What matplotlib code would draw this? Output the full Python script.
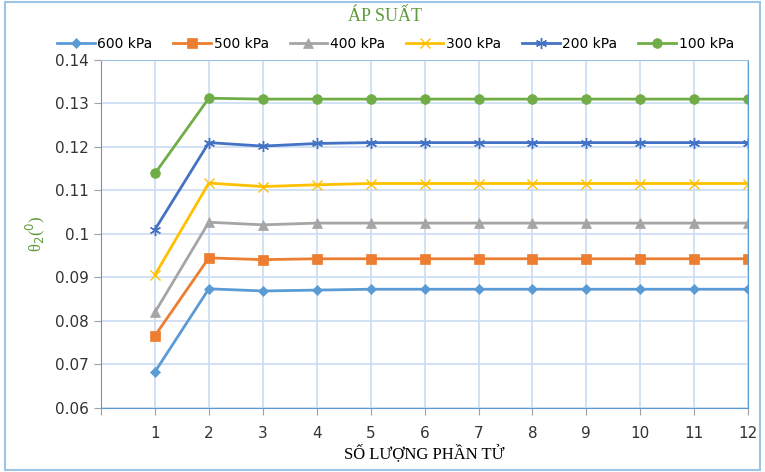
import numpy as np
import matplotlib.pyplot as plt
from matplotlib.patches import Rectangle

x = np.arange(1, 13)
labels = ['600 kPa', '500 kPa', '400 kPa', '300 kPa', '200 kPa', '100 kPa']
p600 = [0.0683, 0.0874, 0.0869, 0.0871] + [0.0873] * 8
p500 = [0.0766, 0.0945, 0.0941, 0.0943] + [0.0943] * 8
p400 = [0.0820, 0.1027, 0.1021, 0.1025] + [0.1025] * 8
p300 = [0.0906, 0.1117, 0.1109, 0.1113] + [0.1116] * 8
p200 = [0.1010, 0.1210, 0.1202, 0.1208] + [0.1210] * 8
p100 = [0.1139, 0.1312, 0.1310, 0.1310] + [0.1310] * 8

series = [p600, p500, p400, p300, p200, p100]
colors = ['#5B9BD5', '#ED7D31', '#A5A5A5', '#FFC000', '#4472C4', '#70AD47']
markers = ['D', 's', '^', 'x', (6, 2, 0), 'o']
msizes = [5, 7, 7, 7, 8, 7]

fig = plt.figure(figsize=(7.65, 4.72), dpi=100)
ax = fig.add_axes([0.132, 0.1356, 0.846, 0.7374])

for ys, lab, c, m, ms in zip(series, labels, colors, markers, msizes):
    ax.plot(x, ys, color=c, marker=m, markersize=ms, linewidth=2,
            label=lab, markeredgewidth=1 if m in ('x',) or isinstance(m, tuple) else 0.5,
            markeredgecolor=c)

ax.set_xlim(0, 12)
ax.set_ylim(0.06, 0.14)
ax.set_xticks(range(0, 13))
ax.set_xticklabels([''] + [str(i) for i in range(1, 13)])
ax.set_yticks(np.arange(0.06, 0.1401, 0.01))
ax.set_yticklabels(['0.06', '0.07', '0.08', '0.09', '0.1', '0.11', '0.12', '0.13', '0.14'])
ax.grid(True, color='#C9DDF2', linewidth=1.2)
ax.set_axisbelow(True)
for s in ax.spines.values():
    s.set_color('#9DC3E6')
ax.spines['left'].set_color('#5B9BD5')
ax.spines['bottom'].set_color('#5B9BD5')
ax.spines['right'].set_color('#5B9BD5')
ax.tick_params(axis='both', colors='#A0A0A0', labelcolor='#333333', labelsize=11, length=5)
ax.tick_params(axis='x', pad=8)

ax.set_xlabel('SỐ LƯỢNG PHẦN TỬ', family='Liberation Serif', fontsize=12, labelpad=2)
ax.set_ylabel(r'θ$_2$($^0$)', family='Liberation Serif', fontsize=12, color='#5E9B3A', labelpad=6)
fig.text(0.503, 0.965, 'ÁP SUẤT', ha='center', va='center', family='Liberation Serif',
         fontsize=13, color='#5E9B3A')
ax.legend(loc='center', bbox_to_anchor=(0.455, 1.045), ncol=6, frameon=False,
          fontsize=10, handlelength=2.7, columnspacing=1.5, handletextpad=0.2)

fig.patches.append(Rectangle((0.006, 0.005), 0.988, 0.99, transform=fig.transFigure,
                             fill=False, edgecolor='#9DC3E6', linewidth=1.5))

fig.savefig('out.png', dpi=100)
